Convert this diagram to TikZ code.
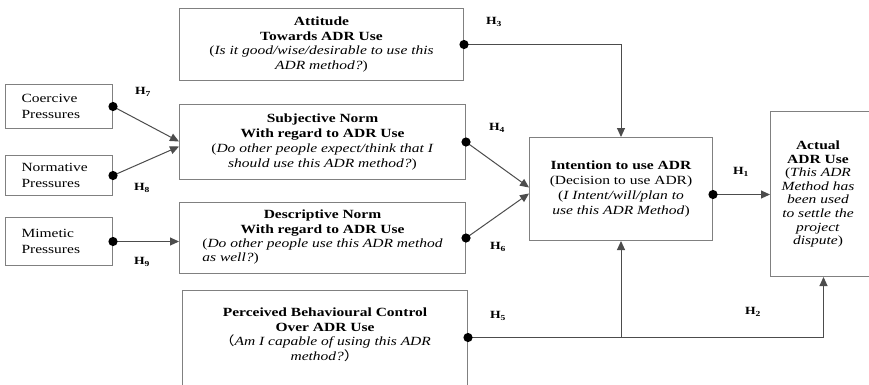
\documentclass[tikz,border=0pt]{standalone}
\usepackage{fontspec}
\setmainfont[FakeStretch=1.24]{Liberation Serif}
\newfontfamily\cjkparen[FakeStretch=1.24]{Noto Sans CJK SC}
\usetikzlibrary{arrows.meta,calc}

\tikzset{
  box/.style={draw=black!50, line width=1pt, inner sep=0pt, align=center,
    font=\fontsize{12.5}{14.8}\selectfont},
  smallbox/.style={box, align=left, text width=75,
    font=\fontsize{12.5}{16}\selectfont},
  conn/.style={draw=black!70, line width=1pt},
  arr/.style={conn, -{Triangle[width=8pt,length=9pt]}},
  dotc/.style={fill=black},
  hyp/.style={font=\fontsize{11}{12}\selectfont\bfseries, inner sep=0pt}
}

\begin{document}
\begin{tikzpicture}[x=1pt,y=-1pt]
\useasboundingbox (0,0) rectangle (869,384);
\clip (0,0) rectangle (869,384);
\fill[white] (0,0) rectangle (869,384);

% institutional pressures
\node[smallbox, minimum width=107, minimum height=44, anchor=north west] (coe) at (5,84) {Coercive\\Pressures};
\node[smallbox, minimum width=107, minimum height=40, anchor=north west] (nor) at (5,155) {Normative\\Pressures};
\node[smallbox, minimum width=107, minimum height=48, anchor=north west] (mim) at (5,217) {Mimetic\\Pressures};

% antecedents
\node[box, minimum width=284, minimum height=72, anchor=north west] (att) at (179,8)
  {\textbf{Attitude}\\\textbf{Towards ADR Use}\\(\textit{Is it good/wise/desirable to use this}\\\textit{ADR method?})};
\node[box, minimum width=286, minimum height=75, anchor=north west] (subj) at (179,104)
  {\textbf{Subjective Norm}\\\textbf{With regard to ADR Use}\\(\textit{Do other people expect/think that I}\\\textit{should use this ADR method?})};
\node[box, minimum width=286, minimum height=71, anchor=north west] (desc) at (179,202)
  {\textbf{Descriptive Norm}\\\textbf{With regard to ADR Use}\\
   \begin{tabular}{@{}l@{}}(\textit{Do other people use this ADR method}\\\textit{as well?})\end{tabular}};
\node[box, minimum width=285, minimum height=102, anchor=north west] (pbc) at (182,290)
  {\textbf{Perceived Behavioural Control}\\\textbf{Over ADR Use}\\
   {\cjkparen （}\textit{Am I capable of using this ADR}\\\textit{method?}{\cjkparen ）}\\\mbox{}};

% intention and behaviour
\node[box, minimum width=183, minimum height=103, anchor=north west] (int) at (529,137)
  {\textbf{Intention to use ADR}\\(Decision to use ADR)\\(\textit{I Intent/will/plan to}\\\textit{use this ADR Method})};
\node[box, minimum width=106, minimum height=165, anchor=north west] (act) at (770,111) {};
\node[align=center, inner sep=0pt, font=\fontsize{12.5}{13.6}\selectfont] (acttxt) at (818,194)
  {\textbf{Actual}\\\textbf{ADR Use}\\(\textit{This ADR}\\\textit{Method has}\\\textit{been used}\\\textit{to settle the}\\\textit{project}\\\textit{dispute})};

% connection points
\coordinate (intdot) at ([yshift=-5.5pt]int.east);
\coordinate (pbcdot) at ([yshift=4pt]pbc.east);

% connectors
\draw[arr] (coe.east) -- ([yshift=0.5pt]subj.west);
\draw[arr] (nor.east) -- ([yshift=-4.5pt]subj.west);
\draw[arr] (mim.east) -- (mim.east -| desc.west);
\draw[arr] (subj.east) -- ([yshift=1.5pt]int.west);
\draw[arr] (desc.east) -- ([yshift=-4.5pt]int.west);
\draw[arr] (att.east) -| (int.north);
\draw[arr] (intdot) -- (intdot -| act.west);
\draw[arr] (pbcdot) -| (act.south);
\draw[arr] (pbcdot -| int.south) -- (int.south);

% origin dots
\foreach \p in {coe.east, nor.east, mim.east, att.east, subj.east, desc.east, intdot, pbcdot}
  \fill[dotc] (\p) circle (4.6);

% hypothesis labels
\node[hyp] (h1) at (741,172) {H\textsubscript{1}};
\node[hyp] (h2) at (753,312) {H\textsubscript{2}};
\node[hyp] (h3) at (494,22) {H\textsubscript{3}};
\node[hyp] (h4) at (497,128) {H\textsubscript{4}};
\node[hyp] (h5) at (498,316) {H\textsubscript{5}};
\node[hyp] (h6) at (498,247) {H\textsubscript{6}};
\node[hyp] (h7) at (143,92) {H\textsubscript{7}};
\node[hyp] (h8) at (142,188) {H\textsubscript{8}};
\node[hyp] (h9) at (142,262) {H\textsubscript{9}};
\end{tikzpicture}
\end{document}
